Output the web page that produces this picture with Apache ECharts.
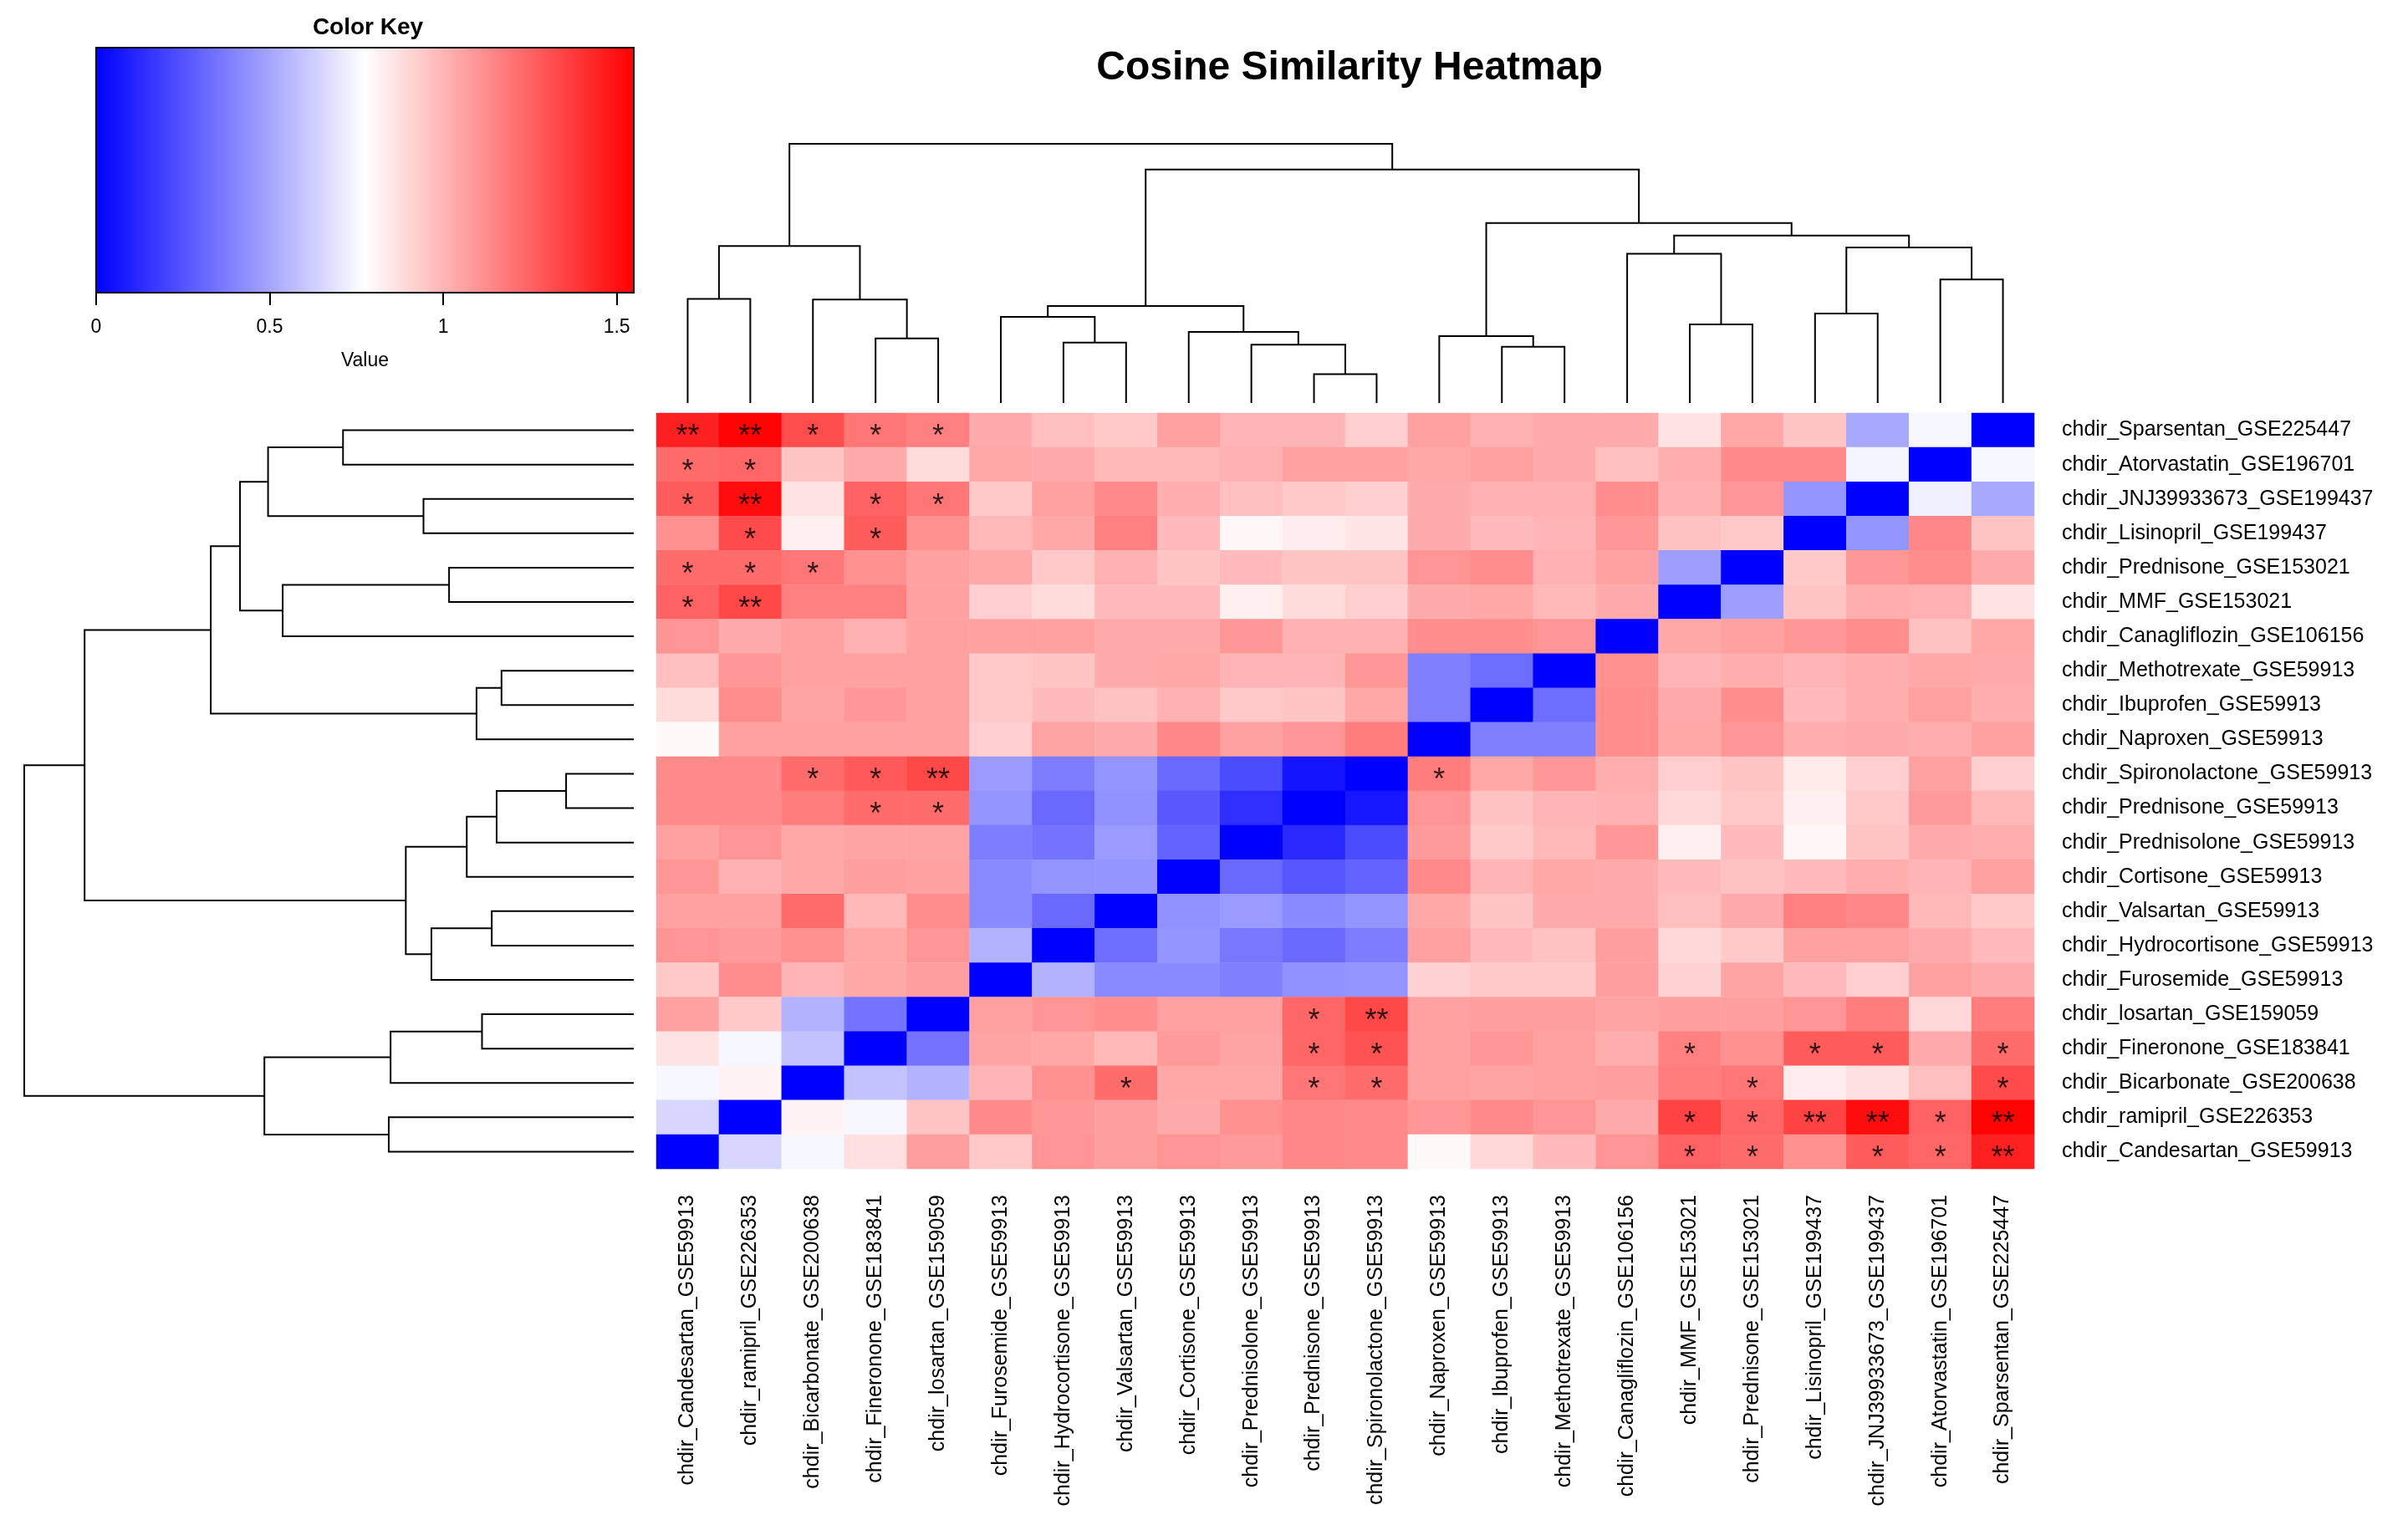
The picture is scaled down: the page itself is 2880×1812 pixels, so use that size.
<!DOCTYPE html>
<html>
<head>
<meta charset="utf-8">
<script src="https://cdn.jsdelivr.net/npm/echarts@6/dist/echarts.min.js"></script>
<style>
html, body { margin: 0; padding: 0; background: #fff; }
#chart { width: 2880px; height: 1812px; }
</style>
</head>
<body>
<div id="chart"></div>
<script>
// column order of the clustered matrix (rows are the same, reversed)
var colNames = [
    'chdir_Candesartan_GSE59913', 'chdir_ramipril_GSE226353', 'chdir_Bicarbonate_GSE200638',
    'chdir_Fineronone_GSE183841', 'chdir_losartan_GSE159059', 'chdir_Furosemide_GSE59913',
    'chdir_Hydrocortisone_GSE59913', 'chdir_Valsartan_GSE59913', 'chdir_Cortisone_GSE59913',
    'chdir_Prednisolone_GSE59913', 'chdir_Prednisone_GSE59913', 'chdir_Spironolactone_GSE59913',
    'chdir_Naproxen_GSE59913', 'chdir_Ibuprofen_GSE59913', 'chdir_Methotrexate_GSE59913',
    'chdir_Canagliflozin_GSE106156', 'chdir_MMF_GSE153021', 'chdir_Prednisone_GSE153021',
    'chdir_Lisinopril_GSE199437', 'chdir_JNJ39933673_GSE199437', 'chdir_Atorvastatin_GSE196701',
    'chdir_Sparsentan_GSE225447'
];
var rowNames = colNames.slice().reverse();

// cell values, rows top to bottom, columns left to right
var cells = [
    [1.45, 1.54, 1.315, 1.19, 1.16, 1.03, 0.97, 0.94, 1.06, 1.00, 1.00, 0.92, 1.06, 1.01, 1.03, 1.03, 0.86, 1.04, 0.95, 0.51, 0.75, 0],
    [1.22, 1.24, 0.95, 1.03, 0.88, 1.04, 1.03, 0.99, 0.99, 1.01, 1.06, 1.06, 1.04, 1.06, 1.03, 0.97, 1.02, 1.13, 1.13, 0.74, 0, 0.75],
    [1.27, 1.51, 0.86, 1.25, 1.19, 0.94, 1.06, 1.13, 1.02, 0.97, 0.94, 0.92, 1.03, 1.01, 1.01, 1.12, 1.01, 1.10, 0.45, 0, 0.73, 0.51],
    [1.11, 1.32, 0.82, 1.27, 1.11, 0.99, 1.04, 1.16, 0.98, 0.80, 0.83, 0.85, 1.03, 0.98, 1.00, 1.09, 0.96, 0.94, 0, 0.45, 1.14, 0.95],
    [1.22, 1.22, 1.19, 1.11, 1.06, 1.04, 0.94, 1.01, 0.95, 0.98, 0.95, 0.95, 1.10, 1.12, 1.01, 1.06, 0.48, 0, 0.94, 1.09, 1.12, 1.03],
    [1.25, 1.33, 1.16, 1.16, 1.06, 0.92, 0.88, 0.98, 0.98, 0.82, 0.88, 0.92, 1.03, 1.04, 0.99, 1.03, 0, 0.48, 0.95, 1.02, 1.01, 0.86],
    [1.10, 1.03, 1.06, 1.01, 1.06, 1.06, 1.06, 1.03, 1.03, 1.09, 1.01, 1.01, 1.12, 1.12, 1.10, 0, 1.04, 1.06, 1.09, 1.12, 0.96, 1.04],
    [0.97, 1.09, 1.06, 1.06, 1.06, 0.94, 0.95, 1.03, 1.04, 1.00, 1.00, 1.09, 0.39, 0.33, 0, 1.11, 1.00, 1.02, 1.00, 1.02, 1.04, 1.03],
    [0.88, 1.12, 1.05, 1.09, 1.06, 0.94, 0.98, 0.96, 1.01, 0.94, 0.95, 1.04, 0.39, 0, 0.33, 1.12, 1.03, 1.12, 0.98, 1.02, 1.06, 1.02],
    [0.79, 1.06, 1.06, 1.06, 1.06, 0.92, 1.05, 1.03, 1.14, 1.06, 1.10, 1.17, 0, 0.39, 0.39, 1.12, 1.04, 1.10, 1.02, 1.03, 1.02, 1.06],
    [1.13, 1.13, 1.22, 1.28, 1.33, 0.47, 0.38, 0.45, 0.32, 0.23, 0.06, 0, 1.17, 1.04, 1.09, 1.02, 0.92, 0.95, 0.84, 0.92, 1.06, 0.92],
    [1.13, 1.13, 1.17, 1.22, 1.22, 0.45, 0.32, 0.44, 0.27, 0.14, 0, 0.07, 1.10, 0.96, 1.00, 1.01, 0.89, 0.94, 0.82, 0.94, 1.08, 0.99],
    [1.06, 1.10, 1.04, 1.05, 1.05, 0.38, 0.35, 0.47, 0.30, 0, 0.12, 0.23, 1.08, 0.94, 0.99, 1.09, 0.82, 0.98, 0.80, 0.95, 1.03, 1.02],
    [1.09, 1.01, 1.04, 1.07, 1.06, 0.42, 0.45, 0.45, 0, 0.32, 0.26, 0.30, 1.13, 1.00, 1.04, 1.03, 0.98, 0.96, 0.98, 1.02, 1.00, 1.06],
    [1.06, 1.06, 1.22, 0.99, 1.12, 0.42, 0.32, 0, 0.44, 0.47, 0.42, 0.45, 1.04, 0.95, 1.03, 1.03, 0.97, 1.03, 1.16, 1.14, 0.99, 0.94],
    [1.10, 1.08, 1.11, 1.04, 1.10, 0.54, 0, 0.33, 0.45, 0.36, 0.32, 0.38, 1.06, 0.98, 0.96, 1.07, 0.89, 0.94, 1.06, 1.06, 1.03, 0.98],
    [0.94, 1.12, 1.00, 1.04, 1.07, 0, 0.54, 0.42, 0.42, 0.39, 0.44, 0.45, 0.91, 0.94, 0.94, 1.07, 0.91, 1.05, 0.98, 0.92, 1.06, 1.03],
    [1.06, 0.94, 0.54, 0.35, 0, 1.06, 1.10, 1.12, 1.06, 1.06, 1.24, 1.33, 1.06, 1.07, 1.07, 1.05, 1.07, 1.07, 1.10, 1.17, 0.89, 1.17],
    [0.86, 0.75, 0.59, 0, 0.35, 1.05, 1.04, 0.99, 1.08, 1.05, 1.24, 1.30, 1.06, 1.09, 1.06, 1.02, 1.16, 1.11, 1.27, 1.27, 1.03, 1.22],
    [0.75, 0.81, 0, 0.59, 0.54, 1.00, 1.11, 1.22, 1.04, 1.04, 1.19, 1.22, 1.06, 1.05, 1.06, 1.07, 1.17, 1.19, 0.83, 0.87, 0.97, 1.32],
    [0.65, 0, 0.81, 0.75, 0.95, 1.13, 1.09, 1.07, 1.03, 1.11, 1.14, 1.13, 1.09, 1.13, 1.10, 1.03, 1.35, 1.24, 1.35, 1.51, 1.25, 1.54],
    [0, 0.65, 0.75, 0.87, 1.07, 0.94, 1.10, 1.07, 1.10, 1.08, 1.14, 1.13, 0.79, 0.89, 0.98, 1.10, 1.25, 1.22, 1.11, 1.27, 1.24, 1.45]
];

// significance marks: [row, col, text]
var stars = [
    [0, 0, '**'], [0, 1, '**'], [0, 2, '*'], [0, 3, '*'], [0, 4, '*'],
    [1, 0, '*'], [1, 1, '*'],
    [2, 0, '*'], [2, 1, '**'], [2, 3, '*'], [2, 4, '*'],
    [3, 1, '*'], [3, 3, '*'],
    [4, 0, '*'], [4, 1, '*'], [4, 2, '*'],
    [5, 0, '*'], [5, 1, '**'],
    [10, 2, '*'], [10, 3, '*'], [10, 4, '**'], [10, 12, '*'],
    [11, 3, '*'], [11, 4, '*'],
    [17, 10, '*'], [17, 11, '**'],
    [18, 10, '*'], [18, 11, '*'], [18, 16, '*'], [18, 18, '*'], [18, 19, '*'], [18, 21, '*'],
    [19, 7, '*'], [19, 10, '*'], [19, 11, '*'], [19, 17, '*'], [19, 21, '*'],
    [20, 16, '*'], [20, 17, '*'], [20, 18, '**'], [20, 19, '**'], [20, 20, '*'], [20, 21, '**'],
    [21, 16, '*'], [21, 17, '*'], [21, 19, '*'], [21, 20, '*'], [21, 21, '**']
];

// hclust-style merges: negative = leaf (1-based column position), positive = earlier merge; third = height
var merges = [
    [-11, -12, 0.111], [-14, -15, 0.217], [-10, 1, 0.225], [-7, -8, 0.233],
    [-13, 2, 0.258], [-4, -5, 0.249], [-9, 3, 0.274], [-17, -18, 0.303],
    [-6, 4, 0.332], [-19, -20, 0.345], [9, 7, 0.374], [-3, 6, 0.399],
    [-1, -2, 0.402], [-21, -22, 0.477], [-16, 8, 0.576], [10, 14, 0.600],
    [13, 12, 0.606], [15, 16, 0.646], [5, 18, 0.694], [11, 19, 0.901],
    [17, 20, 1.0]
];

var keyRange = [0, 1.549];
var keyTicks = [0, 0.5, 1, 1.5];

var FONT = '"Liberation Sans", Arial, Helvetica, sans-serif';
var nLeaf = colNames.length;

function layoutTree(list)
{
    var pos  = [];
    var segs = [];
    function node(ref)
    {
        if(ref < 0) return {x: -ref - 1, h: 0};
        return pos[ref - 1];
    }
    list.forEach(function(m)
    {
        var a = node(m[0]), b = node(m[1]);
        segs.push([[a.x, a.h], [a.x, m[2]], [b.x, m[2]], [b.x, b.h]]);
        pos.push({x: (a.x + b.x) / 2, h: m[2]});
    });
    return segs;
}

var heatData = [];
cells.forEach(function(row, r)
{
    row.forEach(function(v, c) { heatData.push([c, r, v]); });
});
var starData = stars.map(function(s) { return [s[1], s[0], s[2]]; });

var segs    = layoutTree(merges);
var colSegs = segs.map(function(s) { return {coords: s}; });
var rowSegs = segs.map(function(s)
{
    return {coords: s.map(function(p) { return [p[1], nLeaf - 1 - p[0]]; })};
});

var chart = echarts.init(document.getElementById('chart'));

var option = {
    animation: false,
    backgroundColor: '#ffffff',
    textStyle: {fontFamily: FONT},
    title: [
        {
            text: 'Cosine Similarity Heatmap',
            left: 1609, top: 53, textAlign: 'center',
            textStyle: {fontSize: 48, fontWeight: 'bold', color: '#000', fontFamily: FONT}
        },
        {
            text: 'Color Key',
            left: 435, top: 14, textAlign: 'center',
            textStyle: {fontSize: 28, fontWeight: 'bold', color: '#000', fontFamily: FONT}
        }
    ],
    grid: [
        {left: 785, top: 494, width: 1648, height: 904},
        {left: 785, top: 172, width: 1648, height: 310},
        {left: 29, top: 494, width: 729, height: 904},
        {left: 115, top: 57, width: 643, height: 293}
    ],
    xAxis: [
        {
            gridIndex: 0, type: 'category', data: colNames, position: 'bottom',
            axisLine: {show: false}, axisTick: {show: false}, splitLine: {show: false},
            axisLabel: {rotate: 90, fontSize: 25, margin: 31, color: '#000', interval: 0, fontFamily: FONT}
        },
        {gridIndex: 1, type: 'value', min: -0.5, max: nLeaf - 0.5, show: false},
        {gridIndex: 2, type: 'value', min: 0, max: 1, inverse: true, show: false},
        {
            gridIndex: 3, type: 'value', min: keyRange[0], max: keyRange[1], position: 'bottom',
            axisLine: {show: true, lineStyle: {color: '#000', width: 2}},
            axisTick: {show: true, length: 15, customValues: keyTicks, lineStyle: {color: '#000', width: 2}},
            splitLine: {show: false},
            axisLabel: {customValues: keyTicks, fontSize: 23, margin: 30, color: '#000', fontFamily: FONT},
            name: 'Value', nameLocation: 'middle', nameGap: 70,
            nameTextStyle: {fontSize: 23, color: '#000', fontFamily: FONT}
        }
    ],
    yAxis: [
        {
            gridIndex: 0, type: 'category', data: rowNames, inverse: true, position: 'right',
            axisLine: {show: false}, axisTick: {show: false}, splitLine: {show: false},
            axisLabel: {fontSize: 25, margin: 33, color: '#000', interval: 0, fontFamily: FONT}
        },
        {gridIndex: 1, type: 'value', min: 0, max: 1, show: false},
        {gridIndex: 2, type: 'value', min: -0.5, max: nLeaf - 0.5, inverse: true, show: false},
        {gridIndex: 3, type: 'value', min: 0, max: 1, show: false}
    ],
    visualMap: [{
        type: 'continuous', show: false, seriesIndex: 0,
        min: keyRange[0], max: keyRange[1],
        inRange: {color: ['#0000ff', '#ffffff', '#ff0000']}
    }],
    series: [
        {
            type: 'heatmap', xAxisIndex: 0, yAxisIndex: 0, data: heatData,
            itemStyle: {borderWidth: 0}, emphasis: {disabled: true}, progressive: 0
        },
        {
            type: 'scatter', xAxisIndex: 0, yAxisIndex: 0, data: starData,
            symbolSize: 1, itemStyle: {color: 'rgba(0,0,0,0)'}, silent: true,
            label: {
                show: true, position: 'inside', offset: [0, 9],
                fontSize: 36, color: '#000', fontFamily: FONT,
                formatter: function(p) { return p.value[2]; }
            }
        },
        {
            type: 'lines', coordinateSystem: 'cartesian2d', xAxisIndex: 1, yAxisIndex: 1,
            polyline: true, data: colSegs, silent: true,
            lineStyle: {color: '#000', width: 2, opacity: 1}
        },
        {
            type: 'lines', coordinateSystem: 'cartesian2d', xAxisIndex: 2, yAxisIndex: 2,
            polyline: true, data: rowSegs, silent: true,
            lineStyle: {color: '#000', width: 2, opacity: 1}
        },
        {
            type: 'custom', xAxisIndex: 3, yAxisIndex: 3, silent: true,
            data: [[keyRange[0], keyRange[1]]],
            renderItem: function(params, api)
            {
                var p0 = api.coord([api.value(0), 1]);
                var p1 = api.coord([api.value(1), 0]);
                return {
                    type: 'rect',
                    shape: {x: p0[0], y: p0[1], width: p1[0] - p0[0], height: p1[1] - p0[1]},
                    style: {
                        fill: new echarts.graphic.LinearGradient(0, 0, 1, 0, [
                            {offset: 0, color: '#0000ff'},
                            {offset: 0.5, color: '#ffffff'},
                            {offset: 1, color: '#ff0000'}
                        ]),
                        stroke: '#000', lineWidth: 2
                    }
                };
            }
        }
    ]
};

option && chart.setOption(option);
window.addEventListener('resize', chart.resize);
</script>
</body>
</html>
